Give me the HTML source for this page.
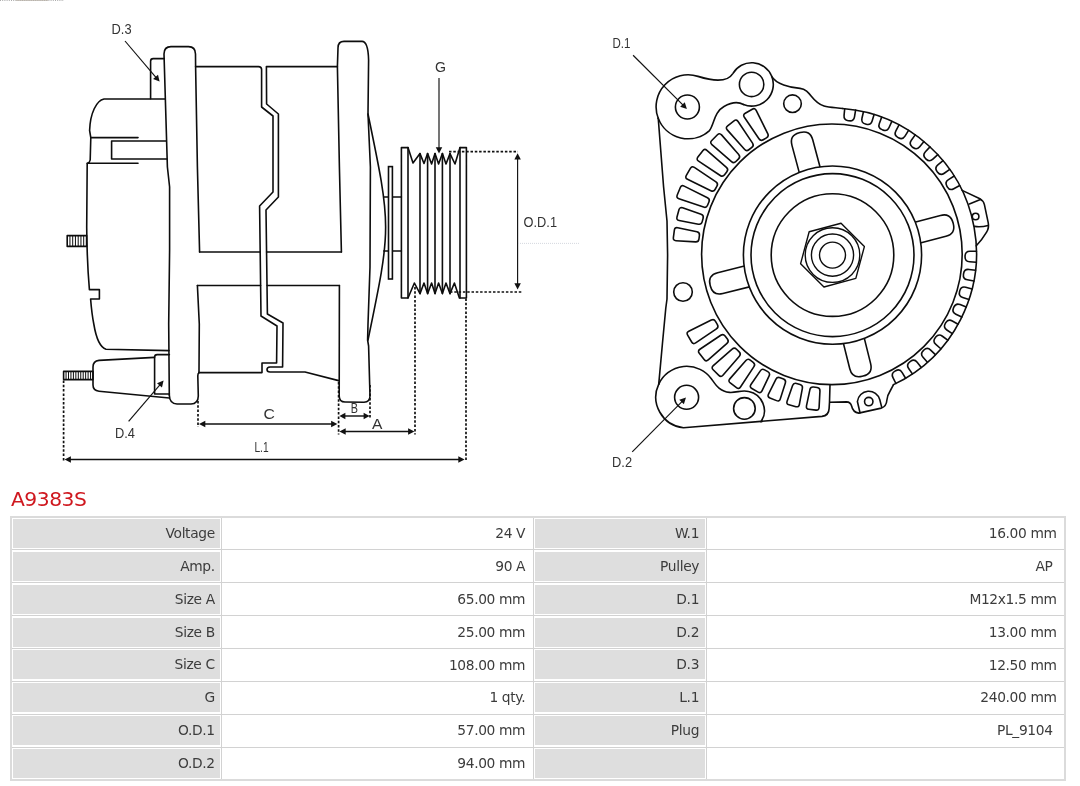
<!DOCTYPE html>
<html lang="en">
<head>
<meta charset="utf-8">
<title>A9383S</title>
<style>
html,body{margin:0;padding:0;background:#fff;}
body{will-change:transform;width:1080px;height:786px;position:relative;overflow:hidden;font-family:"DejaVu Sans","Liberation Sans",sans-serif;color:#444;}
#drawing{position:absolute;left:0;top:0;width:1080px;height:480px;}
#drawing .m{fill:none;stroke:#0d0d0d;stroke-width:1.6;stroke-linejoin:round;stroke-linecap:round;}
#drawing .mw{fill:#fff;stroke:#0d0d0d;stroke-width:1.6;}
#drawing .n{fill:none;stroke:#0d0d0d;stroke-width:1.4;stroke-linejoin:round;}
#drawing .h{fill:none;stroke:#0d0d0d;stroke-width:1;}
#drawing .edge{fill:none;stroke:#8a8a8a;stroke-width:0.8;stroke-dasharray:1 1.2;}
#drawing .edge2{fill:none;stroke:#b9b1a8;stroke-width:0.8;}
#drawing .d{fill:none;stroke:#111;stroke-width:1.45;}
#drawing .d2{fill:none;stroke:#111;stroke-width:1.15;}
#drawing .dot{fill:none;stroke:#111;stroke-width:1.7;stroke-dasharray:2.5 1.8;}
#drawing .ah{fill:#111;stroke:none;}
#drawing .faint{stroke:#c9ced6;stroke-width:0.8;stroke-dasharray:1 1;fill:none;}
#drawing .t{font-family:"Liberation Sans","DejaVu Sans",sans-serif;fill:#333;}
h1{position:absolute;left:11px;top:485px;margin:0;font-weight:normal;font-size:20.3px;line-height:28px;color:#cf181f;letter-spacing:-0.5px;}
#spec{position:absolute;left:10px;top:516px;width:1056px;border-collapse:collapse;table-layout:fixed;border:2px solid #dbdbdb;font-size:13.8px;letter-spacing:-0.36px;color:#3c3c3c;}
#spec col.k1{width:210.9px;}
#spec col.v1{width:312.1px;}
#spec col.k2{width:172.2px;}
#spec col.v2{width:358.8px;}
#spec tr{height:32.87px;}
#spec th,#spec td{border:1px solid #d2d2d2;padding:0 8.3px 0.6px 0;text-align:right;font-weight:normal;white-space:nowrap;vertical-align:middle;line-height:20px;}
#spec th{padding:0;}
#spec td:last-child{padding-right:7.4px;}
#spec th div{background:#dedede;margin:1px 1px 1px 1px;height:29px;line-height:28.4px;padding-right:5.6px;overflow:hidden;}
</style>
</head>
<body>
<svg id="drawing" viewBox="0 0 1080 480" width="1080" height="480" role="img" aria-label="Alternator A9383S dimension drawing">
<path class="edge" d="M0,0.4 H64"/><path class="edge2" d="M16,0.4 H48"/>
<g id="side-view">
<path class="m" d="M165,99 L104,99 C96.5,100.5 90.2,113 89.6,130.5 L90.8,137.6 L90.2,160 Q89.8,162.6 87.2,163.4 L86.7,227 Q87,262 89.4,289.6 L99.4,289.6 L99.4,299 L90.6,299 Q91.8,314 93.8,324 Q97.5,346.5 106,349.2 L169,350.6"/>
<path class="m" d="M90.8,137.6 L138,137.6"/>
<path class="m" d="M87.2,163.2 L138,163.2"/>
<path class="m" d="M166,141 L111.6,141 L111.6,159 L167,159"/>
<path class="m" d="M164.2,58.6 L153.2,58.6 Q150.6,58.6 150.6,61.2 L150.6,98.8"/>
<rect class="m" x="67.2" y="235.6" width="19.4" height="10.8"/>
<line class="h" x1="69.95" y1="235.6" x2="69.95" y2="246.4"/>
<line class="h" x1="72.7" y1="235.6" x2="72.7" y2="246.4"/>
<line class="h" x1="75.45" y1="235.6" x2="75.45" y2="246.4"/>
<line class="h" x1="78.2" y1="235.6" x2="78.2" y2="246.4"/>
<line class="h" x1="80.95" y1="235.6" x2="80.95" y2="246.4"/>
<line class="h" x1="83.7" y1="235.6" x2="83.7" y2="246.4"/>
<path class="m" d="M169.3,395 L168.7,324 L169.6,250 L169.6,187 L167.4,167 L164,54 Q164,46.6 171,46.6 L188.5,46.6 Q195.4,46.6 195.5,54 L195.6,66.6 L197.4,167 L199.6,252"/>
<path class="m" d="M197.4,285.5 L199.3,324 L199,372.6"/>
<path class="m" d="M169.3,395 Q169.6,403.8 177,404 L191,404 Q198.2,403.8 198.3,396 L197.8,376 Q197.8,373.5 199,372.6"/>
<path class="m" d="M195.6,66.6 L258.5,66.6 Q261.5,66.6 261.6,69.5 L261.6,107 L273,116 L273,192 L259.6,206 L261,316 L277,326 L276.6,363 L262,363 L262,372.6 L199,372.6"/>
<path class="m" d="M337.4,66.6 L266.4,66.6 L266.6,104 L278.4,114 L278.4,197 L266,210 L267.4,314 L283,323 L282.6,367 L270,367 Q267,367.2 267,369.6 Q267,372 270,372 L305,372 L338.6,380.6"/>
<path class="m" d="M199.6,252 L260.3,252"/>
<path class="m" d="M266.6,252 L341.4,252"/>
<path class="m" d="M197.4,285.5 L260.6,285.5"/>
<path class="m" d="M267.2,285.5 L339.4,285.5"/>
<path class="m" d="M339.4,285.5 L339.2,396 Q339.3,402 345,402 L364,402.2 Q370,402 370,396 L368.6,346 L367.6,340 L368,324 L370,267 L370.4,167 L368,114 L368.6,60 Q368.2,41.6 362,41.4 L344,41.4 Q338,41.4 338,48 L337.4,66.6 L339.4,167 L341.4,252"/>
<path class="m" d="M368,114 C391.5,227 391.5,227 368,340"/>
<path class="m" d="M383.8,197 L401.4,197 M383.8,251 L401.4,251"/>
<rect class="mw" x="388.5" y="166.6" width="3.9" height="112.4"/>
<path class="m" d="M401.4,298 L401.4,147.6 L408,147.6 L413,163 L420,153.6 L424,163.5 L427.6,153.6 L431.6,164 L435,153.6 L438.6,164 L442.4,153.6 L446,164 L450,153.6 L455,164 L460,147.6 L466.4,147.6 L466.4,298 L459.4,298 L454.4,283 L450,293.6 L446,283 L442.4,293.6 L438.6,283 L435,293.6 L431.6,283 L427.6,293.6 L424,283 L420,293.6 L414.4,283 L408,298 Z"/>
<line class="m" x1="408" y1="147.6" x2="408" y2="298"/>
<line class="m" x1="460" y1="147.6" x2="460" y2="298"/>
<line class="m" x1="420" y1="153.6" x2="420" y2="293.6"/>
<line class="m" x1="427.6" y1="153.6" x2="427.6" y2="293.6"/>
<line class="m" x1="435" y1="153.6" x2="435" y2="293.6"/>
<line class="m" x1="442.4" y1="153.6" x2="442.4" y2="293.6"/>
<line class="m" x1="450" y1="153.6" x2="450" y2="293.6"/>
<path class="m" d="M154.6,357.4 L99,360.4 Q93,361 93,367 L93,385 Q93,390.6 99,391.2 L169.3,398"/>
<path class="m" d="M169.4,354.6 L157.2,354.6 Q154.6,354.6 154.6,357.2 L154.6,394 L169.4,394"/>
<rect class="m" x="63.6" y="371.4" width="29.4" height="8.2"/>
<line class="h" x1="66.05" y1="371.4" x2="66.05" y2="379.6"/>
<line class="h" x1="68.5" y1="371.4" x2="68.5" y2="379.6"/>
<line class="h" x1="70.95" y1="371.4" x2="70.95" y2="379.6"/>
<line class="h" x1="73.4" y1="371.4" x2="73.4" y2="379.6"/>
<line class="h" x1="75.85" y1="371.4" x2="75.85" y2="379.6"/>
<line class="h" x1="78.3" y1="371.4" x2="78.3" y2="379.6"/>
<line class="h" x1="80.75" y1="371.4" x2="80.75" y2="379.6"/>
<line class="h" x1="83.2" y1="371.4" x2="83.2" y2="379.6"/>
<line class="h" x1="85.65" y1="371.4" x2="85.65" y2="379.6"/>
<line class="h" x1="88.1" y1="371.4" x2="88.1" y2="379.6"/>
<line class="h" x1="90.55" y1="371.4" x2="90.55" y2="379.6"/>
<line class="dot" x1="63.6" y1="380.5" x2="63.6" y2="462"/>
<line class="dot" x1="198" y1="401" x2="198" y2="427"/>
<line class="dot" x1="338.6" y1="382" x2="338.6" y2="434.5"/>
<line class="dot" x1="370" y1="385" x2="370" y2="419"/>
<line class="dot" x1="415" y1="287" x2="415" y2="434.5"/>
<line class="dot" x1="466" y1="298.5" x2="466" y2="462"/>
<line class="dot" x1="449" y1="151.6" x2="518" y2="151.6"/>
<line class="dot" x1="450" y1="292" x2="522" y2="292"/>
<line class="d2" x1="439" y1="78" x2="439" y2="148.56"/>
<polygon class="ah" points="439,153.6 435.75,147.3 442.25,147.3"/>
<line class="d2" x1="517.6" y1="158.24" x2="517.6" y2="284.56"/>
<polygon class="ah" points="517.6,289.6 514.35,283.3 520.85,283.3"/>
<polygon class="ah" points="517.6,153.2 520.85,159.5 514.35,159.5"/>
<line class="d" x1="204.04" y1="424" x2="332.36" y2="424"/>
<polygon class="ah" points="337.4,424 331.1,427.25 331.1,420.75"/>
<polygon class="ah" points="199,424 205.3,420.75 205.3,427.25"/>
<line class="d" x1="344.2" y1="416" x2="364.8" y2="416"/>
<polygon class="ah" points="369.6,416 363.6,419.2 363.6,412.8"/>
<polygon class="ah" points="339.4,416 345.4,412.8 345.4,419.2"/>
<line class="d" x1="344.44" y1="431.4" x2="409.36" y2="431.4"/>
<polygon class="ah" points="414.4,431.4 408.1,434.65 408.1,428.15"/>
<polygon class="ah" points="339.4,431.4 345.7,428.15 345.7,434.65"/>
<line class="d" x1="69.64" y1="459.4" x2="459.56" y2="459.4"/>
<polygon class="ah" points="464.6,459.4 458.3,462.65 458.3,456.15"/>
<polygon class="ah" points="64.6,459.4 70.9,456.15 70.9,462.65"/>
<line class="d2" x1="125" y1="41" x2="156.33" y2="77.76"/>
<polygon class="ah" points="159.6,81.6 153.04,78.91 157.99,74.7"/>
<line class="d2" x1="128.6" y1="421.4" x2="160.32" y2="384.43"/>
<polygon class="ah" points="163.6,380.6 161.96,387.5 157.03,383.27"/>
<text class="t" x="111.6" y="34.4" font-size="14.6" textLength="20" lengthAdjust="spacingAndGlyphs">D.3</text>
<text class="t" x="115" y="438.4" font-size="14.6" textLength="20" lengthAdjust="spacingAndGlyphs">D.4</text>
<text class="t" x="435" y="71.6" font-size="14.6" textLength="11" lengthAdjust="spacingAndGlyphs">G</text>
<text class="t" x="523.6" y="227" font-size="14.6" textLength="33.4" lengthAdjust="spacingAndGlyphs">O.D.1</text>
<text class="t" x="263.6" y="419.4" font-size="14.6" textLength="11.4" lengthAdjust="spacingAndGlyphs">C</text>
<text class="t" x="350.8" y="413.2" font-size="14.6" textLength="7.2" lengthAdjust="spacingAndGlyphs">B</text>
<text class="t" x="372" y="428.6" font-size="14.6" textLength="10.4" lengthAdjust="spacingAndGlyphs">A</text>
<text class="t" x="254.4" y="452" font-size="14.6" textLength="14.2" lengthAdjust="spacingAndGlyphs">L.1</text>
<line class="faint" x1="518" y1="243.4" x2="580" y2="243.4"/>
</g>
<g id="front-view">
<path class="m" d="M907.1,224.27 L940.46,215.46 Q950.41,212.83 953.04,222.79 L953.27,223.66 Q955.91,233.61 945.95,236.24 L912.59,245.06"/>
<path class="m" d="M862.28,330.12 L870.63,363.6 Q873.12,373.59 863.13,376.08 L862.26,376.3 Q852.26,378.79 849.77,368.8 L841.42,335.32"/>
<path class="m" d="M757.48,284.88 L722.84,293.52 Q712.84,296.01 710.35,286.02 L710.13,285.15 Q707.64,275.15 717.64,272.66 L752.28,264.02"/>
<path class="m" d="M801.41,180.61 L791.96,145.35 Q789.3,135.4 799.25,132.74 L800.12,132.5 Q810.07,129.84 812.73,139.79 L822.18,175.04"/>
<circle class="mw" cx="832.5" cy="255.1" r="89.1"/>
<circle class="m" cx="832.5" cy="255.1" r="81.5"/>
<circle class="m" cx="832.5" cy="255.1" r="61.3"/>
<path class="n" d="M864.38,246.56 L855.83,278.43 L823.96,286.98 L800.62,263.64 L809.17,231.77 L841.04,223.22 Z"/>
<circle class="n" cx="832.5" cy="255.1" r="27.3"/>
<circle class="n" cx="832.5" cy="255.1" r="21.1"/>
<circle class="n" cx="832.5" cy="255.1" r="13"/>
<circle class="m" cx="831.9" cy="254.3" r="130.3"/>
<path class="m" d="M744.37,117.26 Q742.69,114.78 745.28,113.27 L752.26,109.21 Q754.85,107.7 756.18,110.39 L767.73,133.7 Q769.06,136.39 766.47,137.9 L763.21,139.79 Q760.62,141.3 758.94,138.82 Z"/>
<path class="m" d="M727.24,129.85 Q725.26,127.61 727.63,125.78 L734.02,120.85 Q736.4,119.01 738.06,121.51 L752.53,143.12 Q754.2,145.62 751.83,147.45 L748.84,149.75 Q746.47,151.58 744.48,149.34 Z"/>
<path class="m" d="M711.89,144.56 Q709.63,142.59 711.75,140.46 L717.44,134.75 Q719.56,132.62 721.54,134.88 L738.69,154.44 Q740.67,156.69 738.55,158.82 L735.89,161.49 Q733.77,163.61 731.51,161.64 Z"/>
<path class="m" d="M698.58,161.13 Q696.08,159.47 697.9,157.09 L702.81,150.68 Q704.63,148.3 706.89,150.28 L726.43,167.45 Q728.68,169.43 726.86,171.81 L724.57,174.8 Q722.74,177.19 720.24,175.53 Z"/>
<path class="m" d="M687.52,179.29 Q684.83,177.97 686.33,175.37 L690.37,168.38 Q691.87,165.78 694.36,167.45 L715.96,181.94 Q718.45,183.61 716.95,186.21 L715.07,189.48 Q713.57,192.08 710.87,190.75 Z"/>
<path class="m" d="M678.92,198.73 Q676.08,197.76 677.23,194.99 L680.32,187.54 Q681.47,184.77 684.16,186.1 L707.46,197.67 Q710.15,199 709,201.78 L707.55,205.26 Q706.4,208.03 703.56,207.07 Z"/>
<path class="m" d="M679.15,220.5 Q676.21,219.94 676.99,217.04 L678.95,209.77 Q679.73,206.87 682.56,207.87 L701.07,214.35 Q703.91,215.34 703.12,218.24 L702.14,221.88 Q701.36,224.78 698.41,224.21 Z"/>
<path class="m" d="M675.96,240.68 Q672.97,240.5 673.37,237.52 L674.37,230.06 Q674.77,227.09 677.7,227.71 L696.9,231.74 Q699.84,232.35 699.44,235.33 L698.93,239.06 Q698.54,242.04 695.54,241.86 Z"/>
<path class="m" d="M695.66,342.93 Q693.18,344.61 691.66,342.02 L687.63,335.13 Q686.12,332.54 688.81,331.2 L711.3,320.03 Q713.99,318.7 715.5,321.29 L717.4,324.54 Q718.91,327.13 716.43,328.81 Z"/>
<path class="m" d="M708.24,359.97 Q706,361.97 704.16,359.59 L699.27,353.28 Q697.43,350.91 699.92,349.24 L720.77,335.24 Q723.26,333.57 725.1,335.94 L727.4,338.91 Q729.24,341.28 727,343.28 Z"/>
<path class="m" d="M722.93,375.24 Q720.96,377.51 718.83,375.39 L713.16,369.77 Q711.03,367.66 713.29,365.68 L732.14,349.09 Q734.39,347.1 736.52,349.22 L739.19,351.87 Q741.32,353.98 739.36,356.25 Z"/>
<path class="m" d="M740.5,386.98 Q738.85,389.49 736.47,387.67 L730.23,382.93 Q727.85,381.11 729.82,378.85 L745.9,360.48 Q747.88,358.23 750.27,360.04 L753.2,362.28 Q755.58,364.09 753.93,366.6 Z"/>
<path class="m" d="M762,390.89 Q760.71,393.6 758.11,392.11 L751.88,388.54 Q749.28,387.05 750.97,384.57 L760.32,370.83 Q762.01,368.35 764.61,369.84 L767.8,371.68 Q770.41,373.17 769.12,375.88 Z"/>
<path class="m" d="M780.25,398.9 Q779.32,401.76 776.55,400.62 L769.91,397.89 Q767.14,396.75 768.49,394.07 L775.98,379.23 Q777.33,376.56 780.1,377.7 L783.51,379.1 Q786.28,380.24 785.36,383.09 Z"/>
<path class="m" d="M799.39,404.48 Q798.84,407.43 795.94,406.66 L789.01,404.81 Q786.11,404.04 787.1,401.21 L792.59,385.53 Q793.59,382.7 796.49,383.47 L800.05,384.41 Q802.95,385.18 802.4,388.14 Z"/>
<path class="m" d="M819.09,407.51 Q818.93,410.51 815.96,410.12 L808.84,409.2 Q805.87,408.81 806.48,405.87 L809.89,389.61 Q810.51,386.67 813.48,387.06 L817.13,387.54 Q820.11,387.92 819.95,390.92 Z"/>
<path class="m" d="M844.7,108.73 L844.06,115.4 Q843.61,120.08 848.27,120.69 L849.06,120.8 Q853.72,121.41 854.5,116.77 L855.6,110.16"/>
<path class="m" d="M863.47,111.73 L861.96,118.26 Q860.9,122.84 865.44,124.06 L866.22,124.26 Q870.76,125.48 872.13,120.98 L874.09,114.58"/>
<path class="m" d="M881.68,117.15 L879.34,123.43 Q877.69,127.83 882.03,129.63 L882.77,129.94 Q887.11,131.74 889.07,127.46 L891.85,121.36"/>
<path class="m" d="M899.03,124.91 L895.89,130.82 Q893.68,134.98 897.75,137.33 L898.45,137.73 Q902.52,140.08 905.01,136.09 L908.56,130.41"/>
<path class="m" d="M915.23,134.86 L911.34,140.32 Q908.61,144.14 912.33,147.01 L912.97,147.49 Q916.7,150.35 919.69,146.73 L923.95,141.56"/>
<path class="m" d="M929.98,146.84 L925.41,151.74 Q922.2,155.18 925.53,158.51 L926.09,159.07 Q929.42,162.4 932.86,159.19 L937.76,154.62"/>
<path class="m" d="M943.04,160.65 L937.87,164.91 Q934.25,167.9 937.11,171.63 L937.59,172.27 Q940.46,175.99 944.28,173.26 L949.74,169.37"/>
<path class="m" d="M954.19,176.04 L948.51,179.59 Q944.52,182.08 946.87,186.15 L947.27,186.85 Q949.62,190.92 953.78,188.71 L959.69,185.57"/>
<path class="m" d="M976.48,251.2 L969.88,251.28 Q965.18,251.34 965.07,256.04 L965.06,256.84 Q964.95,261.54 969.64,261.81 L976.23,262.19"/>
<path class="m" d="M975.53,270.2 L968.97,269.42 Q964.3,268.87 963.58,273.51 L963.46,274.3 Q962.74,278.95 967.36,279.83 L973.84,281.07"/>
<path class="m" d="M972.09,288.92 L965.7,287.29 Q961.14,286.13 959.82,290.64 L959.59,291.41 Q958.27,295.92 962.74,297.4 L969,299.48"/>
<path class="m" d="M966.24,307.03 L960.11,304.58 Q955.75,302.83 953.85,307.13 L953.52,307.86 Q951.62,312.16 955.86,314.22 L961.8,317.09"/>
<path class="m" d="M958.07,324.22 L952.32,320.99 Q948.22,318.69 945.77,322.7 L945.36,323.39 Q942.91,327.4 946.84,329.99 L952.35,333.62"/>
<path class="m" d="M947.73,340.2 L942.44,336.24 Q938.68,333.42 935.73,337.08 L935.23,337.7 Q932.28,341.37 935.84,344.44 L940.83,348.76"/>
<path class="m" d="M935.38,354.68 L930.66,350.07 Q927.3,346.78 923.9,350.03 L923.32,350.58 Q919.92,353.82 923.04,357.34 L927.42,362.27"/>
<path class="m" d="M921.25,367.43 L917.17,362.24 Q914.27,358.54 910.47,361.31 L909.83,361.78 Q906.03,364.56 908.67,368.45 L912.37,373.91"/>
<path class="m" d="M905.58,378.22 L902.21,372.54 Q899.81,368.5 895.69,370.75 L894.99,371.13 Q890.86,373.38 892.97,377.59 L895.92,383.49"/>
<path class="m" d="M842.6,108.55 A145.3,145.3 0 0 1 893.52,384.65"/>
<circle class="m" cx="687.4" cy="107" r="12"/>
<circle class="m" cx="751.6" cy="84.4" r="12.2"/>
<circle class="m" cx="792.5" cy="103.7" r="8.8"/>
<circle class="m" cx="683" cy="292" r="9.3"/>
<circle class="m" cx="686.6" cy="397.3" r="12"/>
<circle class="m" cx="744.4" cy="408.4" r="10.8"/>
<circle class="m" cx="975.6" cy="216.5" r="3.3"/>
<circle class="m" cx="868.75" cy="401.6" r="4.2"/>
<path class="m" d="M658.23,118.27 A32,32 0 0 1 697.99,76.37 C708,79.5 726,84.5 732.81,73.55 A21.7,21.7 0 0 1 771.72,76.27 C776,84 790,87.5 800,88.4 C811,89.5 811,102 824,106 C830,107.8 838,107.6 842.6,108.55"/>
<path class="m" d="M771.72,76.27 A21.7,21.7 0 0 1 743.47,104.52"/>
<path class="m" d="M658.23,118.27 A32,32 0 0 0 709.51,130.58 C714.5,123.5 714,112 724,106.5 C731,102.5 738,101.5 743.47,104.52"/>
<path class="m" d="M658.23,118.27 L663.6,187 L667,221 L667.6,255 L667,299 L665.8,308 L662.4,344 L658.74,384.08"/>
<path class="m" d="M658.74,384.08 A30.8,30.8 0 0 0 683.43,427.73 L822,416.4 Q828.8,415.6 829.1,408.6 L829.5,402.3 L830,384.7"/>
<path class="m" d="M658.74,384.08 A30.8,30.8 0 0 1 711.34,378.69 C715.4,384.4 719.5,391.8 729.5,392.4 C737,392.9 741.5,389.6 748.66,391.5 A19.7,19.7 0 0 1 761.03,421.82"/>
<path class="m" d="M829.7,402.2 L846.5,401.9 Q850.5,402 851.6,406 Q853,412.4 858.75,413.1 L881.25,408.1 Q886.4,406.5 886.9,400 Q887.5,395 890,391.25 L893.52,384.65"/>
<path class="m" d="M860,412.8 L857.4,401.5 A11.4,11.4 0 0 1 879.8,399.8 L881.8,407.6"/>
<path class="m" d="M962.13,190.39 L979.4,198.4 Q983.3,200.3 984.4,204.6 L988.2,222.6 Q989.3,227.6 986.6,232.2 Q982.2,239.6 976.3,245.8"/>
<path class="m" d="M969.4,203.9 L980.4,199.4"/>
<path class="m" d="M974.6,226.4 Q981,227.4 988.2,225.4"/>
<line class="d2" x1="633.1" y1="55.25" x2="683.33" y2="105.44"/>
<polygon class="ah" points="686.9,109 680.15,106.85 684.74,102.25"/>
<line class="d2" x1="632.25" y1="451.9" x2="682.46" y2="401.09"/>
<polygon class="ah" points="686,397.5 683.88,404.27 679.26,399.7"/>
<text class="t" x="612.5" y="47.75" font-size="14.6" textLength="17.9" lengthAdjust="spacingAndGlyphs">D.1</text>
<text class="t" x="612.1" y="467.1" font-size="14.6" textLength="20" lengthAdjust="spacingAndGlyphs">D.2</text>
</g>
</svg>
<h1>A9383S</h1>
<table id="spec">
<colgroup><col class="k1"><col class="v1"><col class="k2"><col class="v2"></colgroup>
<tbody>
<tr><th scope="row"><div>Voltage</div></th><td>24 V</td><th scope="row"><div>W.1</div></th><td>16.00 mm</td></tr>
<tr><th scope="row"><div>Amp.</div></th><td>90 A</td><th scope="row"><div>Pulley</div></th><td>AP&nbsp;</td></tr>
<tr><th scope="row"><div>Size A</div></th><td>65.00 mm</td><th scope="row"><div>D.1</div></th><td>M12x1.5 mm</td></tr>
<tr><th scope="row"><div>Size B</div></th><td>25.00 mm</td><th scope="row"><div>D.2</div></th><td>13.00 mm</td></tr>
<tr><th scope="row"><div>Size C</div></th><td>108.00 mm</td><th scope="row"><div>D.3</div></th><td>12.50 mm</td></tr>
<tr><th scope="row"><div>G</div></th><td>1 qty.</td><th scope="row"><div>L.1</div></th><td>240.00 mm</td></tr>
<tr><th scope="row"><div>O.D.1</div></th><td>57.00 mm</td><th scope="row"><div>Plug</div></th><td>PL_9104&nbsp;</td></tr>
<tr><th scope="row"><div>O.D.2</div></th><td>94.00 mm</td><th scope="row"><div>&nbsp;</div></th><td>&nbsp;</td></tr>
</tbody></table>
</body>
</html>
